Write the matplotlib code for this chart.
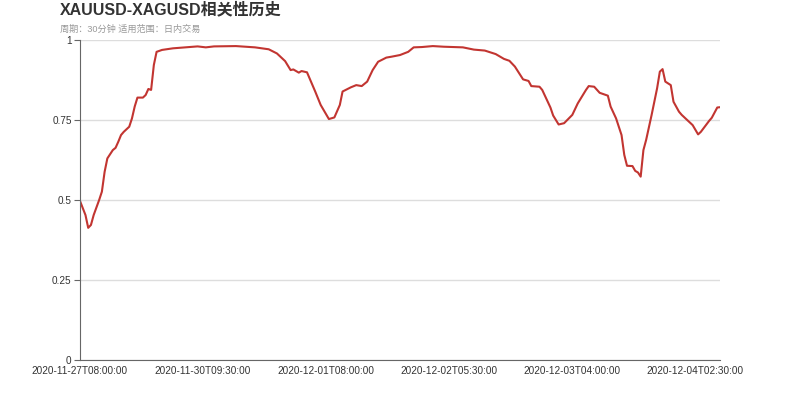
import matplotlib
matplotlib.use('Agg')
import matplotlib.pyplot as plt

# half-hour bars, category axis
n_bars = 235
label_step = 45
tick_labels = ['2020-11-27T08:00:00', '2020-11-30T09:30:00', '2020-12-01T08:00:00',
               '2020-12-02T05:30:00', '2020-12-03T04:00:00', '2020-12-04T02:30:00']

bar_idx = [0, 2, 3, 4, 5, 7, 8, 9, 10, 12, 13, 14, 15, 16, 18, 19, 20, 21, 23, 24,
           25, 26, 27, 28, 30, 34, 40, 43, 46, 49, 57, 64, 69, 72, 75, 77, 78, 80, 81, 83,
           86, 88, 91, 93, 95, 96, 99, 101, 103, 105, 107, 109, 112, 114, 117, 120, 122, 125, 129, 133,
           140, 144, 148, 152, 155, 157, 159, 162, 164, 165, 168, 169, 172, 173, 175, 177, 180, 182, 185, 186,
           188, 190, 193, 194, 196, 198, 199, 200, 202, 203, 204, 205, 206, 207, 209, 211, 212, 213, 214, 216,
           217, 219, 220, 222, 224, 226, 227, 230, 231, 233, 234]
corr = [0.497, 0.453, 0.413, 0.422, 0.453, 0.500, 0.526, 0.588, 0.630, 0.656, 0.663, 0.682, 0.703, 0.713, 0.729, 0.755, 0.792, 0.820, 0.820, 0.828,
        0.847, 0.844, 0.922, 0.963, 0.969, 0.974, 0.978, 0.980, 0.977, 0.980, 0.981, 0.977, 0.971, 0.958, 0.934, 0.906, 0.908, 0.898, 0.903, 0.899,
        0.839, 0.797, 0.753, 0.758, 0.797, 0.839, 0.852, 0.859, 0.856, 0.870, 0.906, 0.932, 0.945, 0.948, 0.953, 0.963, 0.977, 0.978, 0.981, 0.979,
        0.977, 0.970, 0.967, 0.956, 0.941, 0.935, 0.917, 0.877, 0.872, 0.856, 0.854, 0.844, 0.789, 0.764, 0.736, 0.740, 0.766, 0.802, 0.844, 0.856,
        0.854, 0.835, 0.826, 0.792, 0.755, 0.703, 0.641, 0.607, 0.606, 0.591, 0.586, 0.573, 0.656, 0.688, 0.766, 0.849, 0.901, 0.909, 0.870, 0.859,
        0.807, 0.776, 0.766, 0.750, 0.734, 0.705, 0.713, 0.747, 0.757, 0.789, 0.790]

plt.rcParams['font.family'] = ['Liberation Sans', 'Noto Sans CJK SC', 'DejaVu Sans']

fig = plt.figure(figsize=(8, 4), dpi=100)
ax = fig.add_axes([0.1, 0.1, 0.8, 0.8])

ax.plot(bar_idx, corr, color='#c23531', linewidth=1.5, solid_joinstyle='round')

ax.set_xlim(0, n_bars - 1)
ax.set_ylim(0, 1)
ax.set_xticks([i * label_step for i in range(len(tick_labels))])
ax.set_xticklabels(tick_labels)
ax.set_yticks([0, 0.25, 0.5, 0.75, 1])
ax.set_yticklabels(['0', '0.25', '0.5', '0.75', '1'])

ax.grid(axis='y', color='#dddddd', linewidth=1)
ax.set_axisbelow(True)
for s in ('top', 'right'):
    ax.spines[s].set_visible(False)
for s in ('left', 'bottom'):
    ax.spines[s].set_color('#666666')
ax.tick_params(axis='x', length=0, pad=4, labelsize=7.2, labelcolor='#333333')
ax.tick_params(axis='y', length=4, color='#666666', pad=2, labelsize=7.2, labelcolor='#333333')

fig.text(0.075, 0.995, 'XAUUSD-XAGUSD相关性历史', fontsize=11.5, fontweight='bold',
         color='#333333', va='top', ha='left')
fig.text(0.075, 0.927, '周期：30分钟 适用范围：日内交易', fontsize=6.6, color='#999999',
         va='center', ha='left')

fig.savefig('out.png', dpi=100)
